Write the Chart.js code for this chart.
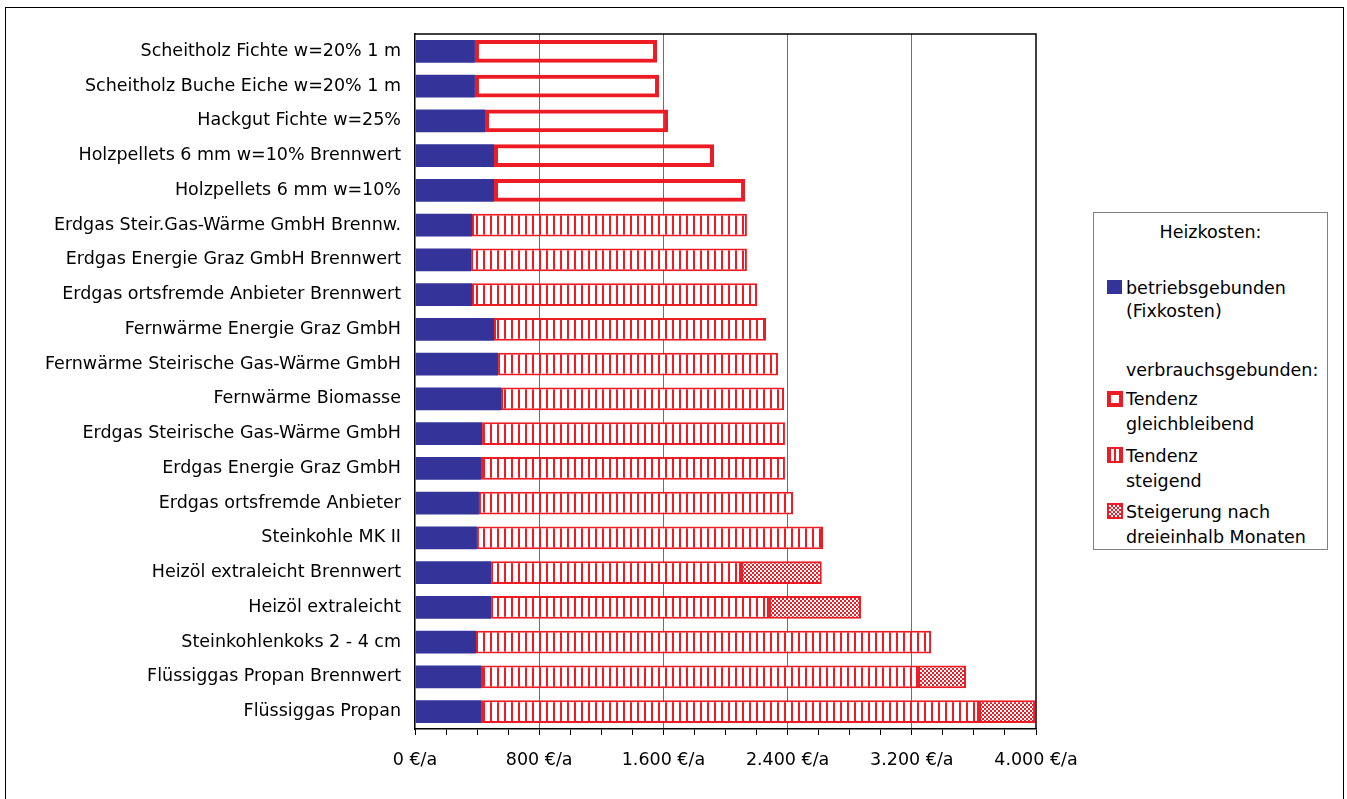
<!DOCTYPE html>
<html>
<head>
<meta charset="utf-8">
<title>Heizkosten</title>
<script src="https://cdn.jsdelivr.net/npm/chart.js@4/dist/chart.umd.min.js"></script>
<style>
  html, body { margin: 0; padding: 0; background: #fff; }
  #wrap { position: relative; width: 1347px; height: 799px; overflow: hidden; }
  #frame { position: absolute; left: 5px; top: 7px; width: 1339px; height: 810px;
           border: 1.5px solid #000; box-sizing: border-box; }
  #c { position: absolute; left: 0; top: 0; }
  #legend { position: absolute; left: 1093px; top: 212px; width: 235px; height: 338px;
            border: 1px solid #808080; box-sizing: border-box; background: #fff; }
  .lt { position: absolute; font-family: "DejaVu Sans", sans-serif; font-size: 17.5px;
        color: #000; line-height: 24px; white-space: nowrap; }
  .sw { position: absolute; box-sizing: border-box; }
</style>
</head>
<body>
<div id="wrap">
  <div id="frame"></div>
  <canvas id="c" width="1347" height="799"></canvas>
  <div id="legend"></div>
</div>
<script>
// Heizkosten je Energieträger, €/Jahr
const categories = [
  'Scheitholz Fichte w=20% 1 m',
  'Scheitholz Buche Eiche w=20% 1 m',
  'Hackgut Fichte w=25%',
  'Holzpellets 6 mm w=10% Brennwert',
  'Holzpellets 6 mm w=10%',
  'Erdgas Steir.Gas-Wärme GmbH Brennw.',
  'Erdgas Energie Graz GmbH Brennwert',
  'Erdgas ortsfremde Anbieter Brennwert',
  'Fernwärme Energie Graz GmbH',
  'Fernwärme Steirische Gas-Wärme GmbH',
  'Fernwärme Biomasse',
  'Erdgas Steirische Gas-Wärme GmbH',
  'Erdgas Energie Graz GmbH',
  'Erdgas ortsfremde Anbieter',
  'Steinkohle MK II',
  'Heizöl extraleicht Brennwert',
  'Heizöl extraleicht',
  'Steinkohlenkoks 2 - 4 cm',
  'Flüssiggas Propan Brennwert',
  'Flüssiggas Propan'
];

// betriebsgebunden (Fixkosten)
const fixkosten = [386, 386, 451, 509, 509, 367, 361, 367, 509, 535,
                   554, 432, 425, 412, 399, 490, 490, 393, 425, 425];
// verbrauchsgebunden, Tendenz gleichbleibend
const gleichbleibend = [1173, 1186, 1179, 1417, 1617, null, null, null, null, null,
                        null, null, null, null, null, null, null, null, null, null];
// verbrauchsgebunden, Tendenz steigend
const steigend = [null, null, null, null, null, 1771, 1777, 1836, 1752, 1803,
                  1823, 1951, 1958, 2023, 2229, 1610, 1790, 2931, 2815, 3208];
// Steigerung nach dreieinhalb Monaten
const steigerung = [null, null, null, null, null, null, null, null, null, null,
                    null, null, null, null, null, 520, 593, null, 309, 361];

const xTicks = [0, 800, 1600, 2400, 3200, 4000];

const BLUE = '#333399';
const RED = '#ED1C24';
const FONT = '"DejaVu Sans", sans-serif';
const FSIZE = 17.5;

function stripePattern() {
  const p = document.createElement('canvas');
  p.width = 7; p.height = 4;
  const g = p.getContext('2d');
  g.fillStyle = '#fff'; g.fillRect(0, 0, 7, 4);
  g.fillStyle = RED; g.fillRect(0, 0, 2, 4);
  return g.createPattern(p, 'repeat');
}
function checkPattern() {
  const p = document.createElement('canvas');
  p.width = 4; p.height = 4;
  const g = p.getContext('2d');
  g.fillStyle = '#fff'; g.fillRect(0, 0, 4, 4);
  g.fillStyle = RED;
  g.fillRect(0, 0, 2, 2); g.fillRect(2, 2, 2, 2);
  return g.createPattern(p, 'repeat');
}

function euro(v) {
  const s = v >= 1000 ? Math.floor(v / 1000) + '.' + String(v % 1000).padStart(3, '0') : String(v);
  return s + ' €/a';
}

// Rahmen oben und rechts um die Zeichenfläche
const frameBox = {
  id: 'frameBox',
  afterDatasetsDraw(chart) {
    const a = chart.chartArea, ctx = chart.ctx;
    ctx.save();
    ctx.strokeStyle = '#000';
    ctx.lineWidth = 1.5;
    ctx.beginPath();
    ctx.moveTo(a.left, a.top); ctx.lineTo(a.right, a.top); ctx.lineTo(a.right, a.bottom);
    ctx.stroke();
    ctx.restore();
  }
};

new Chart(document.getElementById('c'), {
  type: 'bar',
  data: {
    labels: categories,
    datasets: [
      { label: 'betriebsgebunden (Fixkosten)', data: fixkosten,
        backgroundColor: BLUE, borderWidth: 0 },
      { label: 'Tendenz gleichbleibend', data: gleichbleibend,
        backgroundColor: 'rgba(255,255,255,0)', borderColor: RED, borderWidth: 4, borderSkipped: false },
      { label: 'Tendenz steigend', data: steigend,
        backgroundColor: stripePattern(), borderColor: RED, borderWidth: 2, borderSkipped: false },
      { label: 'Steigerung nach dreieinhalb Monaten', data: steigerung,
        backgroundColor: checkPattern(), borderColor: RED, borderWidth: 2, borderSkipped: false }
    ]
  },
  options: {
    indexAxis: 'y',
    responsive: false,
    animation: false,
    devicePixelRatio: 1,
    barPercentage: 0.66,
    categoryPercentage: 1.0,
    layout: { padding: { top: 34, right: 311, bottom: 0, left: 0 } },
    plugins: { legend: { display: false }, tooltip: { enabled: false } },
    scales: {
      x: {
        stacked: true,
        min: 0, max: 4000,
        afterFit(s) { s.height = 70; },
        ticks: {
          stepSize: 200, autoSkip: false, maxRotation: 0, padding: 15,
          color: '#000', font: { family: FONT, size: FSIZE },
          callback: v => xTicks.includes(v) ? euro(v) : ''
        },
        grid: {
          color: c => (c.tick && c.tick.value % 800 === 0 && c.tick.value > 0 && c.tick.value < 4000) ? '#6e6e6e' : 'rgba(0,0,0,0)',
          tickColor: '#000', tickLength: 6, lineWidth: 1
        },
        border: { display: true, color: '#000', width: 1.5 }
      },
      y: {
        stacked: true,
        afterFit(s) { s.width = 415; },
        ticks: { color: '#000', padding: 6, autoSkip: false, font: { family: FONT, size: FSIZE } },
        grid: { display: false },
        border: { display: true, color: '#000', width: 1.5 }
      }
    }
  },
  plugins: [frameBox]
});

// Legende
const lg = document.getElementById('legend');
const L = 1093, T = 212;
function txt(s, x, y, center) {
  const d = document.createElement('div');
  d.className = 'lt';
  d.textContent = s;
  d.style.top = (y - T - 12) + 'px';
  if (center) { d.style.left = '0'; d.style.width = '100%'; d.style.textAlign = 'center'; }
  else d.style.left = (x - L) + 'px';
  lg.appendChild(d);
}
function sw(x, y, w, h, css) {
  const d = document.createElement('div');
  d.className = 'sw';
  d.style.left = (x - L) + 'px'; d.style.top = (y - T) + 'px';
  d.style.width = w + 'px'; d.style.height = h + 'px';
  Object.assign(d.style, css);
  lg.appendChild(d);
}
txt('Heizkosten:', 0, 231, true);
sw(1106, 279, 15, 14, { background: BLUE });
txt('betriebsgebunden', 1125, 287);
txt('(Fixkosten)', 1125, 310);
txt('verbrauchsgebunden:', 1125, 369);
sw(1106, 390, 16, 16, { border: '4px solid ' + RED, background: '#fff' });
txt('Tendenz', 1125, 398);
txt('gleichbleibend', 1125, 423);
sw(1106, 446, 16, 16, { border: '2px solid ' + RED,
  background: 'repeating-linear-gradient(90deg,' + RED + ' 0 2px,#fff 2px 5px)' });
txt('Tendenz', 1125, 455);
txt('steigend', 1125, 480);
sw(1106, 502, 16, 16, { border: '2px solid ' + RED,
  backgroundImage: 'conic-gradient(' + RED + ' 25%, #fff 0 50%, ' + RED + ' 0 75%, #fff 0)',
  backgroundSize: '4px 4px' });
txt('Steigerung nach', 1125, 511);
txt('dreieinhalb Monaten', 1125, 536);
</script>
</body>
</html>
